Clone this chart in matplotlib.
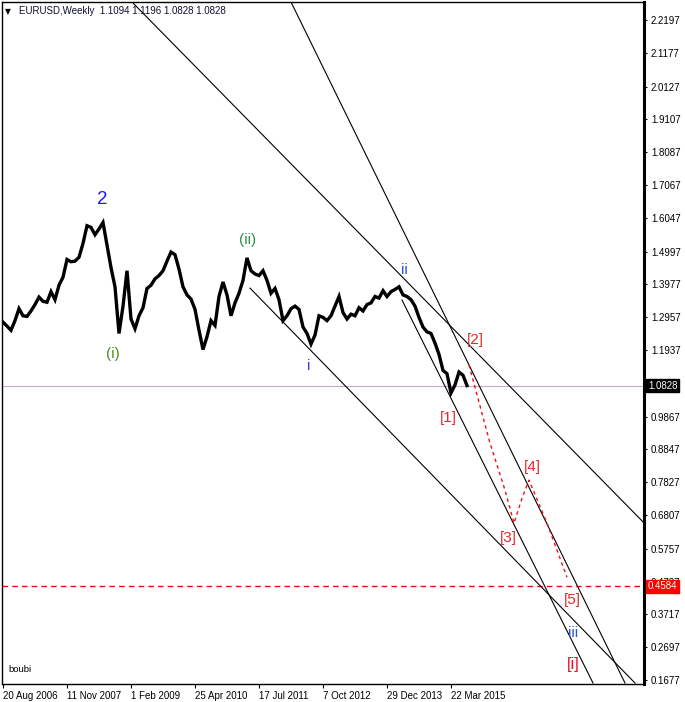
import matplotlib
matplotlib.use('Agg')
import matplotlib.pyplot as plt
import matplotlib.transforms as mtransforms
import numpy as np

plt.rcParams['font.family'] = ['Liberation Sans', 'DejaVu Sans']

# ---- data (week index from 20 Aug 2006, 4-week sampling) ----
close = [
    1.280, 1.268, 1.255, 1.285, 1.322, 1.300, 1.298, 1.315, 1.335, 1.358,
    1.345, 1.342, 1.375, 1.350, 1.395, 1.420, 1.475, 1.468, 1.470, 1.482,
    1.525, 1.580, 1.575, 1.552, 1.570, 1.590, 1.520, 1.450, 1.390, 1.245,
    1.330, 1.440, 1.290, 1.260, 1.300, 1.325, 1.385, 1.395, 1.415, 1.425,
    1.440, 1.470, 1.498, 1.490, 1.445, 1.390, 1.365, 1.352, 1.320, 1.255,
    1.195, 1.235, 1.285, 1.270, 1.360, 1.405, 1.365, 1.300, 1.340, 1.370,
    1.410, 1.480, 1.440, 1.430, 1.425, 1.440, 1.410, 1.370, 1.385, 1.350,
    1.285, 1.300, 1.322, 1.330, 1.320, 1.265, 1.245, 1.212, 1.240, 1.300,
    1.295, 1.285, 1.300, 1.330, 1.360, 1.310, 1.290, 1.305, 1.300, 1.325,
    1.315, 1.335, 1.340, 1.360, 1.355, 1.378, 1.360, 1.375, 1.382, 1.390,
    1.365, 1.360, 1.350, 1.330, 1.295, 1.265, 1.250, 1.245, 1.215, 1.180,
    1.130, 1.120, 1.060, 1.085, 1.125, 1.115, 1.083,
]
week_step = 4

date_labels = ['20 Aug 2006', '11 Nov 2007', '1 Feb 2009', '25 Apr 2010',
               '17 Jul 2011', '7 Oct 2012', '29 Dec 2013', '22 Mar 2015']
date_weeks = [0, 64, 128, 192, 256, 320, 384, 448]

price_ticks = [2.2197, 2.1177, 2.0127, 1.9107, 1.8087, 1.7067, 1.6047, 1.4997,
               1.3977, 1.2957, 1.1937, 0.9867, 0.8847, 0.7827, 0.6807, 0.5757,
               0.4737, 0.3717, 0.2697, 0.1677]

current_price = 1.0828
target_price = 0.4584

# trend lines: start (week, price) -> end (week, price)
line_w0 = [127, 287, 247, 399]
line_p0 = [2.282, 2.282, 1.386, 1.349]
line_w1 = [641, 622, 632, 590]
line_p1 = [0.656, 0.158, 0.158, 0.158]

# projected wave path (red dashed)
proj_w = [466, 487, 502, 511, 519, 526, 544, 564]
proj_p = [1.147, 0.904, 0.758, 0.655, 0.733, 0.789, 0.655, 0.487]

# wave labels
lab_text = ['2', '(i)', '(ii)', 'i', 'ii', '[1]', '[2]', '[3]', '[4]', '[5]', 'iii', '[i]']
lab_w = [99, 110, 245, 306, 401, 445, 472, 505, 529, 569, 570, 570]
lab_p = [1.663, 1.181, 1.536, 1.144, 1.442, 0.982, 1.225, 0.609, 0.830, 0.416, 0.314, 0.217]
lab_color = ['#1a1aff', '#4f8f1f', '#2f8f4f', '#5a30d8', '#2a50e0', '#e02a2a',
             '#e02a2a', '#e02a2a', '#e02a2a', '#e02a2a', '#2a50e0', '#e0102a']
lab_size = [13.5, 11, 11, 11, 11, 11, 11, 11, 11, 11, 11, 12]

# ---- figure ----
fig = plt.figure(figsize=(6.85, 7.02), dpi=100)
ax = fig.add_axes([2 / 685, 18 / 702, 642 / 685, 682 / 702])
ax.set_xlim(-1, 641)
ax.set_ylim(0.155, 2.2757)

weeks = np.arange(len(close)) * week_step
ax.plot(weeks, close, color='black', lw=2.4, solid_joinstyle='miter', zorder=4)

for w0, p0, w1, p1 in zip(line_w0, line_p0, line_w1, line_p1):
    ax.plot([w0, w1], [p0, p1], color='black', lw=0.8, zorder=3)

ax.axhline(current_price, color='#c8a8c8', lw=0.8, zorder=1)
ax.axhline(target_price, color='#dd1111', lw=1.0, ls=(0, (4, 3)), zorder=2)

ax.plot(proj_w, proj_p, color='#ee1111', lw=1.0, ls=(0, (2.5, 2.5)), zorder=3)

for t, w, p, c, s in zip(lab_text, lab_w, lab_p, lab_color, lab_size):
    ax.text(w, p, t, color=c, fontsize=s, ha='center', va='center', zorder=6)

ax.text(5, 0.199, 'boubi', fontsize=6.8, color='black', ha='left', va='center')

# title
ax.text(0.004, 0.992, '\u25BC', transform=ax.transAxes, fontsize=5.5,
        ha='left', va='top', family=['DejaVu Sans'])
ax.text(0.027, 0.994, 'EURUSD,Weekly  1.1094 1.1196 1.0828 1.0828',
        transform=ax.transAxes, fontsize=7, ha='left', va='top', color='#101030')

# axes styling
for side in ['top', 'left', 'bottom']:
    ax.spines[side].set_linewidth(1.0)
ax.spines['right'].set_linewidth(2.2)

ax.yaxis.tick_right()
ax.set_yticks(price_ticks)
ax.set_yticklabels([f'{v:.4f}' for v in price_ticks])
ax.tick_params(axis='y', direction='out', length=2, width=0.8, pad=3,
               labelsize=7, right=True, left=False)

ax.set_xticks(date_weeks)
ax.set_xticklabels(date_labels)
for lbl in ax.get_xticklabels():
    lbl.set_horizontalalignment('left')
ax.tick_params(axis='x', direction='out', length=3, width=0.8, pad=2, labelsize=7)

trans = mtransforms.blended_transform_factory(ax.transAxes, ax.transData)
ax.text(1.006, current_price, '1.0828', transform=trans, fontsize=7,
        color='white', ha='left', va='center', zorder=10,
        bbox=dict(facecolor='black', edgecolor='black', pad=1.2))
ax.text(1.006, target_price, '0.4584', transform=trans, fontsize=7,
        color='white', ha='left', va='center', zorder=10,
        bbox=dict(facecolor='#ff0000', edgecolor='#ff0000', pad=1.2))

fig.savefig('out.png', dpi=100)
